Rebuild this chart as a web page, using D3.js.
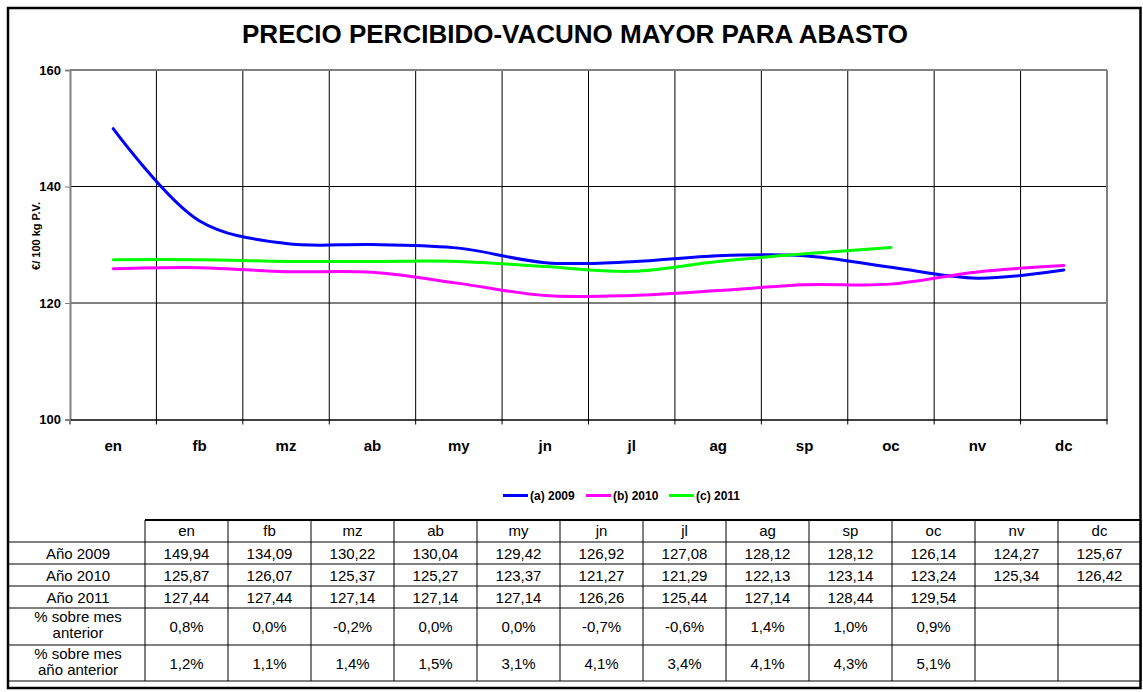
<!DOCTYPE html>
<html><head><meta charset="utf-8">
<script src="https://cdn.jsdelivr.net/npm/d3@7"></script>
<style>
body{margin:0;background:#fff;}
svg{display:block;font-family:"Liberation Sans",Arial,sans-serif;}
</style></head>
<body>
<script>
const months = ["en","fb","mz","ab","my","jn","jl","ag","sp","oc","nv","dc"];
const y2009 = [149.94,134.09,130.22,130.04,129.42,126.92,127.08,128.12,128.12,126.14,124.27,125.67];
const y2010 = [125.87,126.07,125.37,125.27,123.37,121.27,121.29,122.13,123.14,123.24,125.34,126.42];
const y2011 = [127.44,127.44,127.14,127.14,127.14,126.26,125.44,127.14,128.44,129.54];
const pctPrevMonth = ["0,8%","0,0%","-0,2%","0,0%","0,0%","-0,7%","-0,6%","1,4%","1,0%","0,9%","",""];
const pctPrevYear = ["1,2%","1,1%","1,4%","1,5%","3,1%","4,1%","3,4%","4,1%","4,3%","5,1%","",""];
const yTicks = [100,120,140,160];
const seriesNames = ["(a) 2009","(b) 2010","(c) 2011"];
const seriesColors = ["#0000FF","#FF00FF","#00FF00"];
const title = "PRECIO PERCIBIDO-VACUNO MAYOR PARA ABASTO";
const yLabel = "€/ 100 kg P.V.";

const W = 1143, H = 692;
const svg = d3.select("body").append("svg").attr("width", W).attr("height", H);

// outer frame
svg.append("rect").attr("x",8).attr("y",8).attr("width",1132.5).attr("height",680)
  .attr("fill","#fff").attr("stroke","#000").attr("stroke-width",2.5);

svg.append("text").attr("x",575).attr("y",43).attr("text-anchor","middle")
  .attr("font-weight","bold").attr("font-size",26).text(title);

const plot = {l:70, r:1107, t:70, b:419.5};
const x = d3.scaleBand().domain(months).range([plot.l, plot.r]);
const y = d3.scaleLinear().domain([100,160]).range([plot.b, plot.t]);

// grid horizontal
svg.append("g").selectAll("line").data([120,140]).join("line")
  .attr("x1",plot.l).attr("x2",plot.r).attr("y1",d=>y(d)).attr("y2",d=>y(d))
  .attr("stroke","#000").attr("stroke-width",1);
// grid vertical interior
const bounds = months.slice(1).map(m=>x(m));
svg.append("g").selectAll("line").data(bounds).join("line")
  .attr("x1",d=>d).attr("x2",d=>d).attr("y1",plot.t).attr("y2",plot.b+5)
  .attr("stroke","#000").attr("stroke-width",1);
// plot border top/right gray
svg.append("line").attr("x1",plot.l).attr("x2",plot.r).attr("y1",plot.t).attr("y2",plot.t)
  .attr("stroke","#808080").attr("stroke-width",2);
svg.append("line").attr("x1",plot.r).attr("x2",plot.r).attr("y1",plot.t).attr("y2",plot.b+5)
  .attr("stroke","#808080").attr("stroke-width",2);

// y axis
const yAxis = d3.axisLeft(y).tickValues(yTicks).tickSize(5).tickPadding(4);
const gy = svg.append("g").attr("transform",`translate(${plot.l},0)`).call(yAxis);
gy.select(".domain").attr("stroke","#808080").attr("stroke-width",2);
gy.selectAll(".tick line").attr("stroke","#808080");
gy.selectAll("text").attr("font-weight","bold").attr("font-size",13).attr("font-family","Liberation Sans, Arial").attr("fill","#000");

// x axis
const xAxis = d3.axisBottom(x).tickSize(0).tickPadding(21);
const gx = svg.append("g").attr("transform",`translate(0,${plot.b})`).call(xAxis);
gx.select(".domain").attr("stroke","#000").attr("stroke-width",1.5);
gx.selectAll("text").attr("font-weight","bold").attr("font-size",15).attr("font-family","Liberation Sans, Arial").attr("fill","#000");
svg.append("line").attr("x1",plot.l).attr("x2",plot.l).attr("y1",plot.b).attr("y2",plot.b+5)
  .attr("stroke","#808080").attr("stroke-width",2);

// y label
svg.append("text").attr("transform","translate(40,236) rotate(-90)").attr("text-anchor","middle")
  .attr("font-weight","bold").attr("font-size",11).text(yLabel);

// lines
const line = d3.line().x((d,i)=>x(months[i])+x.bandwidth()/2).y(d=>y(d)).curve(d3.curveCatmullRom.alpha(0.5));
[y2009,y2010,y2011].forEach((s,k)=>{
  svg.append("path").attr("d",line(s)).attr("fill","none")
    .attr("stroke",seriesColors[k]).attr("stroke-width",3).attr("stroke-linecap","round");
});

// legend
const legX = [503,586,669];
seriesNames.forEach((n,k)=>{
  svg.append("line").attr("x1",legX[k]).attr("x2",legX[k]+25).attr("y1",495.5).attr("y2",495.5)
    .attr("stroke",seriesColors[k]).attr("stroke-width",3);
  svg.append("text").attr("x",legX[k]+27).attr("y",500).attr("font-weight","bold")
    .attr("font-size",12).text(n);
});

// table
const tL = 145, tR = 1141, colW = (tR-tL)/12;
const rowY = [520,542,564,586,608,645,681];
const tg = svg.append("g");
tg.append("line").attr("x1",tL).attr("x2",tR).attr("y1",rowY[0]).attr("y2",rowY[0]).attr("stroke","#000").attr("stroke-width",2);
rowY.slice(1,7).forEach(yy=>{
  tg.append("line").attr("x1",8).attr("x2",tR).attr("y1",yy).attr("y2",yy).attr("stroke","#000").attr("stroke-width",1);
});
for(let i=0;i<=12;i++){
  const xx = tL + i*colW;
  tg.append("line").attr("x1",xx).attr("x2",xx).attr("y1",rowY[0]).attr("y2",rowY[6]).attr("stroke","#000").attr("stroke-width",1);
}
const fmt = v => v==null ? "" : d3.format(".2f")(v).replace(".",",");
const rows = [
  {label:["Año 2009"], vals:y2009.map(fmt)},
  {label:["Año 2010"], vals:y2010.map(fmt)},
  {label:["Año 2011"], vals:months.map((m,i)=>fmt(y2011[i]))},
  {label:["% sobre mes","anterior"], vals:pctPrevMonth},
  {label:["% sobre mes","año anterior"], vals:pctPrevYear}
];
months.forEach((m,i)=>{
  tg.append("text").attr("x",tL+colW*(i+0.5)).attr("y",(rowY[0]+rowY[1])/2+5)
    .attr("text-anchor","middle").attr("font-size",15).text(m);
});
const body = tg.append("g");
rows.forEach((r,j)=>{
  const y0 = rowY[j+1], y1 = rowY[j+2], cy = (y0+y1)/2;
  if(r.label.length===1){
    body.append("text").attr("x",78).attr("y",cy+5.5).attr("text-anchor","middle").attr("font-size",15).text(r.label[0]);
  } else {
    r.label.forEach((t,q)=>{
      body.append("text").attr("x",78).attr("y",y0+14+q*16).attr("text-anchor","middle").attr("font-size",15).text(t);
    });
  }
  r.vals.forEach((v,i)=>{
    body.append("text").attr("x",tL+colW*(i+0.5)).attr("y",cy+5.5).attr("text-anchor","middle").attr("font-size",15).text(v);
  });
});
</script>
</body></html>
